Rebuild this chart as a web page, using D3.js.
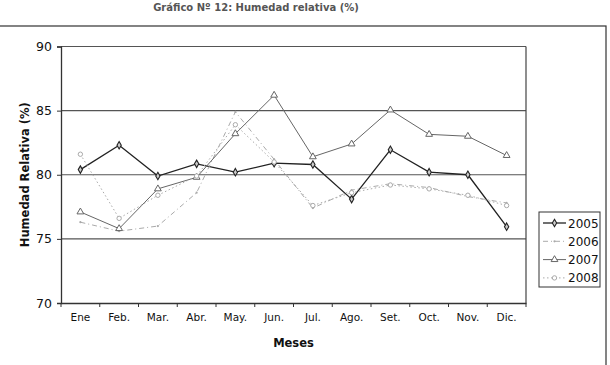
<!DOCTYPE html>
<html>
<head>
<meta charset="utf-8">
<script src="https://cdn.jsdelivr.net/npm/d3@7"></script>
<style>
  body { margin: 0; background: #fff; }
  svg { display: block; font-family: "DejaVu Sans", Verdana, sans-serif; }
</style>
</head>
<body>
<div id="container"></div>
<script>
/* CONSTANTS AND GLOBALS */
const width = 610;
const height = 365;
const margin = { top: 46.5, right: 84, bottom: 62, left: 61 };

/* DATA */
const months = ["Ene", "Feb.", "Mar.", "Abr.", "May.", "Jun.", "Jul.", "Ago.", "Set.", "Oct.", "Nov.", "Dic."];
const yTicks = [70, 75, 80, 85, 90];
const years = ["2005", "2006", "2007", "2008"];
const h2005 = [80.4, 82.3, 79.9, 80.85, 80.2, 80.9, 80.8, 78.1, 81.95, 80.2, 80.0, 75.95];
const h2006 = [76.3, 75.6, 76.0, 78.6, 84.9, 81.2, 77.4, 78.8, 79.3, 79.0, 78.3, 77.8];
const h2007 = [77.1, 75.8, 78.9, 79.8, 83.2, 86.2, 81.4, 82.4, 85.05, 83.15, 83.0, 81.5];
const h2008 = [81.6, 76.6, 78.4, 79.9, 83.9, 81.0, 77.6, 78.6, 79.2, 78.9, 78.4, 77.6];

const seriesVals = [h2005, h2006, h2007, h2008];
const styles = [
  { color: "#222", width: 1.3, dash: null, marker: "diamond" },
  { color: "#aaa", width: 1, dash: "5,3,1,3", marker: "dot" },
  { color: "#666", width: 1, dash: null, marker: "triangle" },
  { color: "#aaa", width: 1, dash: "1.5,2.5", marker: "circle" }
];

const svg = d3.select("#container")
  .append("svg")
  .attr("width", width)
  .attr("height", height);

// outer chart frame
svg.append("rect")
  .attr("x", -1).attr("y", 26)
  .attr("width", 607).attr("height", 350)
  .attr("fill", "none").attr("stroke", "#333").attr("stroke-width", 1.2);

// title
svg.append("text")
  .attr("x", 256).attr("y", 11)
  .attr("text-anchor", "middle")
  .attr("font-size", 10).attr("font-weight", "bold")
  .attr("fill", "#555")
  .text("Gráfico Nº 12: Humedad relativa (%)");

/* SCALES */
const xScale = d3.scaleBand()
  .domain(months)
  .range([margin.left, width - margin.right]);

const yScale = d3.scaleLinear()
  .domain([70, 90])
  .range([height - margin.bottom, margin.top]);

const x0 = margin.left, x1 = width - margin.right;
const yB = yScale(70), yT = yScale(90);

// gridlines
svg.append("g")
  .selectAll("line")
  .data(yTicks.filter(d => d > 70))
  .join("line")
  .attr("x1", x0).attr("x2", x1)
  .attr("y1", d => yScale(d)).attr("y2", d => yScale(d))
  .attr("stroke", "#555").attr("stroke-width", 1.2);

// right border
svg.append("line")
  .attr("x1", x1).attr("x2", x1).attr("y1", yT).attr("y2", yB)
  .attr("stroke", "#444").attr("stroke-width", 1.2);

/* AXES */
const yAxis = svg.append("g")
  .attr("transform", `translate(${x0},0)`)
  .call(d3.axisLeft(yScale).tickValues(yTicks).tickSize(4).tickPadding(5));
yAxis.select(".domain").attr("stroke", "#333").attr("stroke-width", 1.3);
yAxis.selectAll(".tick line").attr("stroke", "#333");
yAxis.selectAll("text").attr("font-size", 12.5).attr("fill", "#111")
  .attr("font-family", "DejaVu Sans, Verdana, sans-serif");

const xAxis = svg.append("g")
  .attr("transform", `translate(0,${yB})`)
  .call(d3.axisBottom(xScale).tickSize(0).tickPadding(11));
xAxis.select(".domain").attr("stroke", "#333").attr("stroke-width", 1.3);
xAxis.selectAll("text").attr("font-size", 10.5).attr("fill", "#111")
  .attr("font-family", "DejaVu Sans, Verdana, sans-serif");

// category boundary ticks
svg.append("g")
  .selectAll("line")
  .data(months.concat(["end"]))
  .join("line")
  .attr("x1", (d, i) => x0 + i * xScale.bandwidth())
  .attr("x2", (d, i) => x0 + i * xScale.bandwidth())
  .attr("y1", yB).attr("y2", yB + 4)
  .attr("stroke", "#333");

// axis titles
svg.append("text")
  .attr("x", (x0 + x1) / 2).attr("y", 347)
  .attr("text-anchor", "middle")
  .attr("font-size", 11.5).attr("font-weight", "bold").attr("fill", "#111")
  .text("Meses");

svg.append("text")
  .attr("transform", `translate(29,${(yT + yB) / 2}) rotate(-90)`)
  .attr("text-anchor", "middle")
  .attr("font-size", 11.5).attr("font-weight", "bold").attr("fill", "#111")
  .text("Humedad Relativa (%)");

/* MARKERS */
function drawMarker(g, type, color, cx, cy) {
  if (type === "diamond") {
    g.append("path")
      .attr("d", d3.symbol(d3.symbolDiamond, 16)())
      .attr("transform", `translate(${cx},${cy})`)
      .attr("fill", "#ccc").attr("stroke", color).attr("stroke-width", 1.1);
  } else if (type === "triangle") {
    g.append("path")
      .attr("d", d3.symbol(d3.symbolTriangle, 20)())
      .attr("transform", `translate(${cx},${cy})`)
      .attr("fill", "#fff").attr("stroke", color).attr("stroke-width", 1);
  } else if (type === "circle") {
    g.append("circle")
      .attr("cx", cx).attr("cy", cy).attr("r", 2.2)
      .attr("fill", "#fff").attr("stroke", color).attr("stroke-width", 1);
  } else {
    g.append("circle")
      .attr("cx", cx).attr("cy", cy).attr("r", 1.1)
      .attr("fill", color);
  }
}

/* LINES */
const line = d3.line()
  .x((d, i) => xScale(months[i]) + xScale.bandwidth() / 2)
  .y(d => yScale(d));

seriesVals.forEach((vals, k) => {
  const st = styles[k];
  const g = svg.append("g");
  g.append("path")
    .datum(vals)
    .attr("d", line)
    .attr("fill", "none")
    .attr("stroke", st.color)
    .attr("stroke-width", st.width)
    .attr("stroke-dasharray", st.dash);
  vals.forEach((v, i) => {
    drawMarker(g, st.marker, st.color, xScale(months[i]) + xScale.bandwidth() / 2, yScale(v));
  });
});

/* LEGEND */
const legend = svg.append("g");
legend.append("rect")
  .attr("x", 539).attr("y", 212)
  .attr("width", 61).attr("height", 75)
  .attr("fill", "#fff").attr("stroke", "#333").attr("stroke-width", 1);

years.forEach((yr, k) => {
  const st = styles[k];
  const ly = 223 + k * 18.3;
  legend.append("line")
    .attr("x1", 543).attr("x2", 566)
    .attr("y1", ly).attr("y2", ly)
    .attr("stroke", st.color).attr("stroke-width", st.width)
    .attr("stroke-dasharray", st.dash);
  drawMarker(legend, st.marker, st.color, 554.5, ly);
  legend.append("text")
    .attr("x", 568).attr("y", ly + 4.5)
    .attr("font-size", 12).attr("fill", "#111")
    .text(yr);
});
</script>
</body>
</html>
